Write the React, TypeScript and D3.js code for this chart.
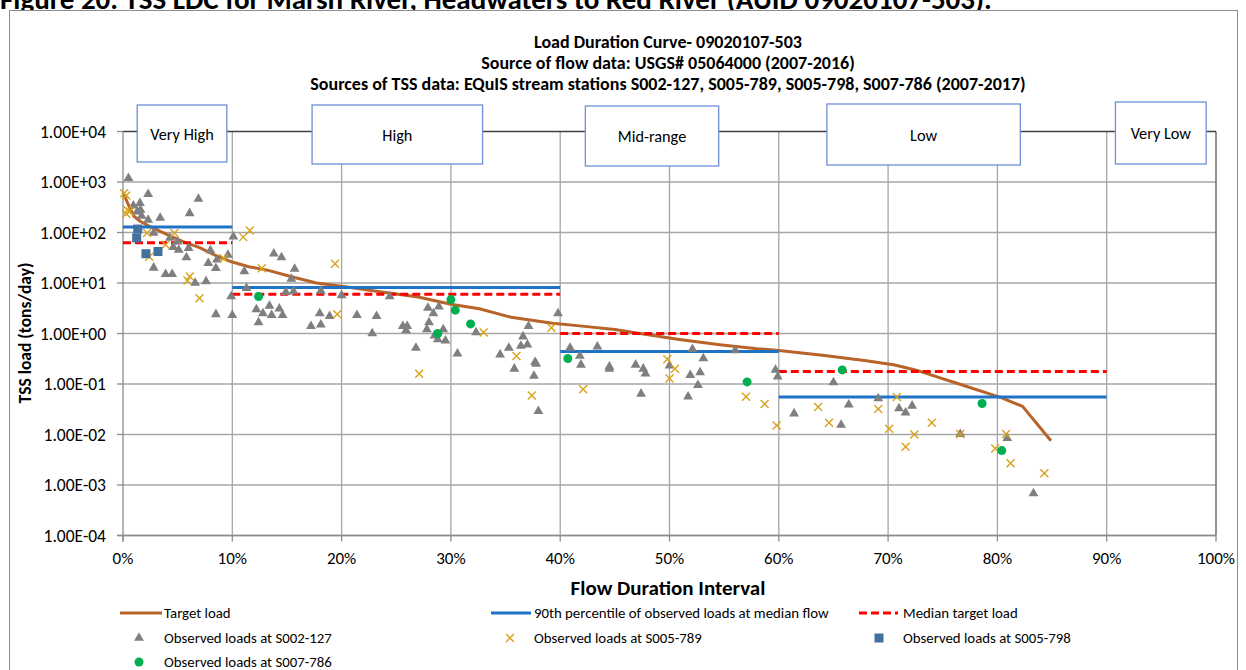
import * as d3 from 'd3';

// flow duration interval (%) / TSS load (tons/day)
const targetPct = [0, 0.5, 1, 1.6, 2.5, 4, 5.5, 7, 8.5, 10, 11.5, 13.2, 15.6, 17.7, 20.5, 23.5, 27, 30, 32.6, 35.5, 39.3, 42, 45, 47.3, 50.9, 54.6, 58, 60, 64, 68, 70.5, 72.5, 76.5, 80.4, 82.3, 84.9];
const targetLoad = [620, 350, 210, 165, 130, 92, 66, 50, 35, 26, 21, 18, 13, 10, 8.3, 6.7, 5.3, 3.8, 3.1, 2.1, 1.6, 1.4, 1.2, 1.0, 0.76, 0.6, 0.5, 0.46, 0.37, 0.29, 0.24, 0.19, 0.1, 0.053, 0.036, 0.0075];

// per flow regime: [start %, end %, value]
const p90Segments = [[0, 10, 128], [10, 40, 8.1], [40, 60, 0.44], [60, 90, 0.055]];
const medianSegments = [[0, 10, 63], [10, 40, 6.0], [40, 60, 1.0], [60, 90, 0.177]];

const s002127 = [
  [0.5, 1190], [2.3, 575], [6.9, 460], [0.95, 340], [1.55, 380], [1.6, 280], [1.3, 260], [1.7, 214],
  [2.3, 178], [3.4, 195], [6.1, 240], [2.8, 98], [4.3, 78], [5, 66], [4.6, 51], [5.1, 45], [6, 49],
  [5.8, 32], [2.8, 20], [3.9, 15], [4.5, 15], [6.6, 10], [7.6, 10.7], [8, 44], [7.8, 24.6], [8.5, 19.6],
  [8.6, 29], [9.6, 36], [10.1, 83], [11.1, 17], [8.5, 2.4], [10, 2.3], [9.9, 5.4], [11.3, 7.9],
  [12.2, 3.0], [12.8, 2.5], [12.4, 1.65], [13.4, 3.5], [13.6, 2.3], [13.8, 38], [14.5, 32], [15.7, 19],
  [15.4, 12], [14.9, 6.6], [15.6, 6.8], [14.3, 3.1], [14.6, 2.3], [17.2, 1.4], [18.1, 1.5], [18, 2.5],
  [18.9, 2.2], [18.1, 7], [20, 5.7], [21.4, 2.3], [23.2, 2.2], [22.8, 1.0], [24.4, 5.4], [25.6, 1.4],
  [26, 1.4], [25.9, 1.15], [26.8, 0.52], [27.9, 3.2], [28.4, 2.5], [28.9, 3.4], [28, 1.66], [27.8, 1.2],
  [29.3, 1.2], [28.5, 0.91], [28.8, 0.76], [29.5, 0.72], [30.6, 0.4], [32.3, 1.05], [34.5, 0.38],
  [35.3, 0.52], [36.4, 0.57], [37, 0.6], [36.6, 0.87], [37.1, 1.4], [35.8, 0.2], [37.7, 0.27],
  [37.8, 0.25], [37.6, 0.145], [38, 0.029], [39.8, 2.5], [40.9, 0.52], [41.8, 0.36], [41.9, 0.24],
  [43.4, 0.55], [44.5, 0.22], [44.5, 0.2], [46.9, 0.24], [47.6, 0.2], [47.8, 0.16], [47.4, 0.064],
  [50, 0.23], [51.9, 0.15], [52.8, 0.17], [52.6, 0.095], [51.7, 0.056], [52.1, 0.49], [53.1, 0.32],
  [56, 0.46], [59.7, 0.19], [59.9, 0.14], [61.4, 0.026], [65, 0.107], [66.4, 0.039], [65.7, 0.0155],
  [69.1, 0.052], [71, 0.033], [72.2, 0.037], [71.6, 0.027], [76.6, 0.0102], [80.9, 0.0085], [83.3, 0.00068],
];

const s005789 = [
  [0.1, 600], [0.3, 540], [0.4, 280], [0.6, 260], [0.3, 234], [2.2, 98], [4.7, 98], [3.9, 57], [2.4, 33],
  [6.1, 13.5], [5.9, 11.2], [7, 5.0], [9.2, 31], [11, 81], [11.6, 110], [19.4, 24], [19.6, 2.4], [12.7, 19.6],
  [27.1, 0.16], [33, 1.05], [36, 0.36], [37.4, 0.059], [39.2, 1.3], [42.1, 0.079], [49.8, 0.31], [50.5, 0.2],
  [50, 0.128], [57, 0.056], [58.7, 0.04], [59.8, 0.015], [63.6, 0.035], [64.6, 0.017], [69.1, 0.032],
  [70.1, 0.013], [70.8, 0.055], [72.4, 0.01], [71.6, 0.0057], [74, 0.017], [76.6, 0.0102], [79.8, 0.0053],
  [80.8, 0.0102], [81.2, 0.0027], [84.3, 0.0017],
];

const s005798 = [[1.35, 117], [1.25, 78], [2.1, 38], [3.2, 42]];

const s007786 = [
  [12.4, 5.4], [30, 4.7], [30.4, 2.9], [31.8, 1.55], [28.8, 1.0], [40.7, 0.32], [57.1, 0.11],
  [65.8, 0.19], [78.6, 0.041], [80.4, 0.0048],
];

const yTickValues = [1e-4, 1e-3, 1e-2, 1e-1, 1, 10, 100, 1000, 10000];
const yTickLabels = ['1.00E-04', '1.00E-03', '1.00E-02', '1.00E-01', '1.00E+00', '1.00E+01', '1.00E+02', '1.00E+03', '1.00E+04'];
const xTickValues = [0, 10, 20, 30, 40, 50, 60, 70, 80, 90, 100];
const xTickLabels = ['0%', '10%', '20%', '30%', '40%', '50%', '60%', '70%', '80%', '90%', '100%'];

const regimeNames = ['Very High', 'High', 'Mid-range', 'Low', 'Very Low'];
// text box extents in chart % (boxes are placed by hand in the original)
const regimeBoxes = [[1.3, 9.5, 105, 162], [17.3, 32.9, 105, 164], [42.3, 54.5, 106, 166], [64.4, 82.1, 104, 165], [90.8, 99.1, 102, 164]];

const titles = [
  'Load Duration Curve- 09020107-503',
  'Source of flow data: USGS# 05064000 (2007-2016)',
  'Sources of TSS data: EQuIS stream stations S002-127, S005-789, S005-798, S007-786 (2007-2017)',
];

const W = 1246;
const H = 670;
const FONT = 'Carlito, Lato, "Open Sans", sans-serif';

const BROWN = '#B8632A';
const BLUE = '#1F73C6';
const RED = '#FF0000';
const GRAY = '#7F7F7F';
const GOLD = '#D9A21B';
const STEEL = '#41719C';
const GREEN = '#00B050';

export default function App() {
  const x = d3.scaleLinear().domain([0, 100]).range([123, 1216]);
  const y = d3.scaleLog().domain([1e-4, 1e4]).range([535.5, 131.5]);

  const line = d3
    .line<number>()
    .x((_, i) => x(targetPct[i]))
    .y((d) => y(d));

  const tri = d3.symbol(d3.symbolTriangle, 42)() as string;
  const cross = 'M-4,-4L4,4M4,-4L-4,4';

  return (
    <div style={{ position: 'absolute', left: 0, top: 0 }}>
      <svg width={W} height={H} style={{ display: 'block', fontFamily: FONT }}>
        <rect width={W} height={H} fill="#fff" />
        <text x={0} y={9} fontSize={29} fontWeight="bold" fill="#000">
          Figure 20. TSS LDC for Marsh River, Headwaters to Red River (AUID 09020107-503).
        </text>
        <rect x={9.5} y={10.5} width={1228} height={700} fill="#fff" stroke="#8c8c8c" strokeWidth={1} />

        {titles.map((t, i) => (
          <text key={t} x={668} y={48 + i * 21} textAnchor="middle" fontSize={18} fontWeight="bold">
            {t}
          </text>
        ))}

        {/* grid */}
        {yTickValues.slice(0, -1).map((v) => (
          <line key={v} x1={x(0)} x2={x(100)} y1={y(v)} y2={y(v)} stroke="#a6a6a6" strokeWidth={1.3} />
        ))}
        {xTickValues.slice(1, -1).map((v) => (
          <line key={v} x1={x(v)} x2={x(v)} y1={y(1e4)} y2={y(1e-4)} stroke="#a6a6a6" strokeWidth={1.3} />
        ))}
        <line x1={x(100)} x2={x(100)} y1={y(1e4)} y2={y(1e-4)} stroke="#595959" strokeWidth={1.3} />
        <line x1={x(0)} x2={x(100)} y1={y(1e4)} y2={y(1e4)} stroke="#404040" strokeWidth={1.5} />
        <line x1={x(0)} x2={x(0)} y1={y(1e4)} y2={y(1e-4) + 6} stroke="#8c8c8c" strokeWidth={1.3} />
        <line x1={x(0) - 6} x2={x(100)} y1={y(1e-4)} y2={y(1e-4)} stroke="#8c8c8c" strokeWidth={1.3} />

        {/* axes ticks & labels */}
        {yTickValues.map((v, i) => (
          <g key={v}>
            <line x1={x(0) - 6} x2={x(0)} y1={y(v)} y2={y(v)} stroke="#8c8c8c" strokeWidth={1.3} />
            <text x={106} y={y(v) + 6} textAnchor="end" fontSize={17.5}>
              {yTickLabels[i]}
            </text>
          </g>
        ))}
        {xTickValues.map((v, i) => (
          <g key={v}>
            <line x1={x(v)} x2={x(v)} y1={y(1e-4)} y2={y(1e-4) + 6} stroke="#8c8c8c" strokeWidth={1.3} />
            <text x={x(v)} y={564} textAnchor="middle" fontSize={17}>
              {xTickLabels[i]}
            </text>
          </g>
        ))}
        <text transform={`translate(31,333) rotate(-90)`} textAnchor="middle" fontSize={17.5} fontWeight="bold">
          TSS load (tons/day)
        </text>
        <text x={668} y={595} textAnchor="middle" fontSize={21} fontWeight="bold">
          Flow Duration Interval
        </text>

        {/* regime boxes */}
        {regimeNames.map((n, i) => {
          const [a, b, t, btm] = regimeBoxes[i];
          return (
            <g key={n}>
              <rect x={x(a)} y={t} width={x(b) - x(a)} height={btm - t} fill="#fff" stroke="#6f8fd6" strokeWidth={1.3} />
              <text x={(x(a) + x(b)) / 2} y={(t + btm) / 2 + 6} textAnchor="middle" fontSize={16.3}>
                {n}
              </text>
            </g>
          );
        })}

        {/* lines */}
        <path d={line(targetLoad) as string} fill="none" stroke={BROWN} strokeWidth={3} strokeLinejoin="round" />
        {p90Segments.map(([a, b, v]) => (
          <line key={a} x1={x(a)} x2={x(b)} y1={y(v)} y2={y(v)} stroke={BLUE} strokeWidth={3} />
        ))}
        {medianSegments.map(([a, b, v]) => (
          <line key={a} x1={x(a)} x2={x(b)} y1={y(v)} y2={y(v)} stroke={RED} strokeWidth={3} strokeDasharray="8,4" />
        ))}

        {/* observed */}
        {s002127.map(([p, v], i) => (
          <path key={i} d={tri} transform={`translate(${x(p)},${y(v)})`} fill={GRAY} />
        ))}
        {s005789.map(([p, v], i) => (
          <path key={i} d={cross} transform={`translate(${x(p)},${y(v)})`} stroke={GOLD} strokeWidth={1.4} fill="none" />
        ))}
        {s005798.map(([p, v], i) => (
          <rect key={i} x={x(p) - 4.5} y={y(v) - 4.5} width={9} height={9} fill={STEEL} />
        ))}
        {s007786.map(([p, v], i) => (
          <circle key={i} cx={x(p)} cy={y(v)} r={4.5} fill={GREEN} />
        ))}

        {/* legend */}
        <g fontSize={14.8}>
          <line x1={120} x2={162} y1={613} y2={613} stroke={BROWN} strokeWidth={3} />
          <text x={164} y={618}>Target load</text>
          <line x1={491} x2={531} y1={613} y2={613} stroke={BLUE} strokeWidth={3} />
          <text x={534} y={618}>90th percentile of observed loads at median flow</text>
          <line x1={859} x2={898} y1={613} y2={613} stroke={RED} strokeWidth={3} strokeDasharray="8,4" />
          <text x={903} y={618}>Median target load</text>

          <path d={tri} transform="translate(139,638)" fill={GRAY} />
          <text x={164} y={643}>Observed loads at S002-127</text>
          <path d={cross} transform="translate(510,638)" stroke={GOLD} strokeWidth={1.4} fill="none" />
          <text x={534} y={643}>Observed loads at S005-789</text>
          <rect x={874.5} y={633.5} width={9} height={9} fill={STEEL} />
          <text x={903} y={643}>Observed loads at S005-798</text>

          <circle cx={139} cy={662} r={4.5} fill={GREEN} />
          <text x={164} y={667}>Observed loads at S007-786</text>
        </g>
      </svg>
    </div>
  );
}
